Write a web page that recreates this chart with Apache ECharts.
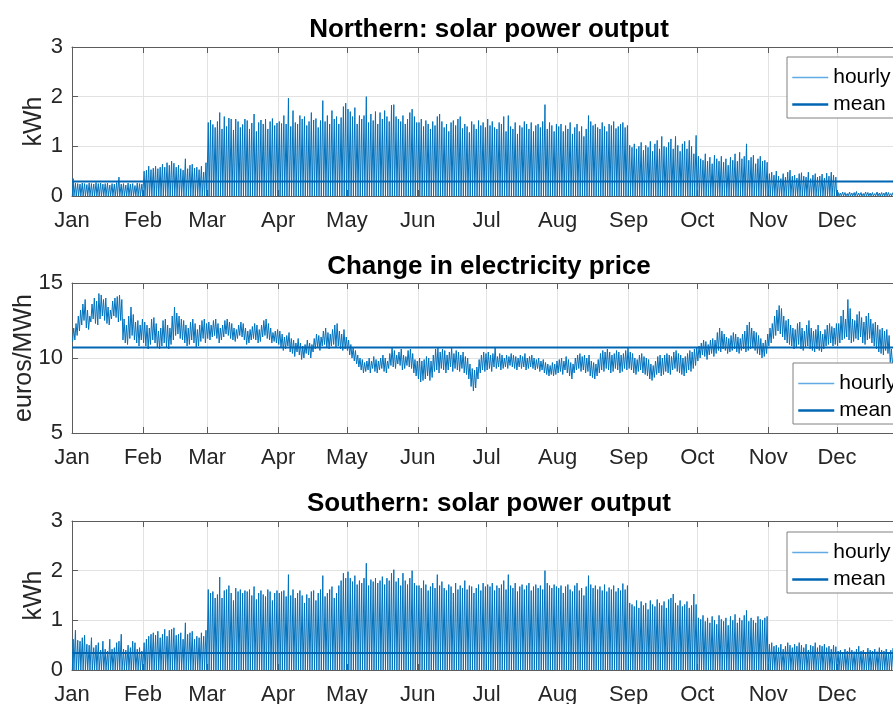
<!DOCTYPE html>
<html><head><meta charset="utf-8">
<script src="https://cdn.jsdelivr.net/npm/echarts@6/dist/echarts.min.js"></script>
<style>html,body{margin:0;padding:0;overflow:hidden;background:#fff}#c{width:920px;height:704px}</style>
</head><body><div id="c"></div>
<script>
const monthNames = ['Jan','Feb','Mar','Apr','May','Jun','Jul','Aug','Sep','Oct','Nov','Dec'];
const monthStarts = [0,31,59,90,120,151,181,212,243,273,304,334];

// daily peak of hourly solar output (kWh), Northern
const northPeak = [
0.35,0.26,0.25,0.24,0.26,0.25,0.23,0.26,0.25,0.24,0.27,0.25,0.26,0.24,0.25,0.26,0.22,0.25,0.24,0.27,0.38,0.24,0.25,0.22,0.26,0.24,0.25,0.21,0.26,0.25,0.24,
0.50,0.52,0.60,0.53,0.56,0.60,0.55,0.58,0.64,0.58,0.67,0.62,0.70,0.66,0.58,0.62,0.55,0.52,0.75,0.55,0.62,0.64,0.56,0.58,0.53,0.60,0.48,0.67,
1.48,1.53,1.44,1.38,1.50,1.68,1.35,1.60,1.40,1.57,1.55,1.33,1.55,1.50,1.38,1.44,1.55,1.52,1.35,1.47,1.65,1.30,1.48,1.53,1.45,1.55,1.35,1.50,1.56,1.42,1.47,
1.50,1.46,1.62,1.45,1.97,1.40,1.72,1.48,1.45,1.62,1.55,1.60,1.42,1.50,1.68,1.53,1.56,1.38,1.52,1.92,1.50,1.62,1.45,1.72,1.55,1.60,1.45,1.58,1.80,1.87,
1.75,1.70,1.60,1.78,1.45,1.62,1.55,1.62,2.00,1.48,1.65,1.52,1.70,1.45,1.68,1.55,1.72,1.60,1.50,1.83,1.84,1.60,1.55,1.50,1.62,1.45,1.55,1.68,1.75,1.60,1.48,
1.48,1.55,1.40,1.52,1.45,1.35,1.50,1.42,1.60,1.65,1.50,1.38,1.45,1.30,1.48,1.52,1.42,1.55,1.60,1.36,1.45,1.40,1.28,1.50,1.44,1.35,1.52,1.42,1.48,1.38,
1.55,1.42,1.50,1.38,1.35,1.48,1.45,1.60,1.30,1.62,1.40,1.35,1.48,1.25,1.42,1.38,1.50,1.45,1.35,1.48,1.30,1.42,1.45,1.38,1.50,1.84,1.35,1.48,1.42,1.30,1.45,
1.40,1.45,1.30,1.42,1.35,1.48,1.25,1.38,1.45,1.30,1.40,1.20,1.35,1.62,1.50,1.42,1.45,1.38,1.35,1.48,1.40,1.30,1.45,1.42,1.50,1.36,1.40,1.45,1.48,1.38,1.42,
1.02,0.98,1.05,0.95,1.00,1.08,0.92,1.02,0.98,1.10,0.90,1.05,1.12,0.95,1.20,1.00,0.98,1.08,1.15,0.95,1.20,1.02,0.90,1.05,1.10,0.95,1.12,1.00,0.85,1.22,
0.80,0.75,0.72,0.85,0.70,0.78,0.65,0.82,0.75,0.70,0.80,0.68,0.75,0.62,0.78,0.72,0.85,0.70,0.88,0.75,0.80,1.05,0.72,0.78,0.82,0.65,0.75,0.80,0.70,0.72,0.68,
0.45,0.48,0.42,0.50,0.40,0.35,0.45,0.38,0.48,0.52,0.40,0.42,0.36,0.45,0.47,0.40,0.38,0.48,0.35,0.42,0.45,0.38,0.40,0.44,0.36,0.46,0.40,0.48,0.42,0.38,
0.07,0.06,0.08,0.07,0.05,0.08,0.06,0.07,0.09,0.06,0.07,0.05,0.08,0.07,0.06,0.07,0.05,0.08,0.06,0.07,0.06,0.08,0.07,0.05,0.07,0.06,0.08,0.07,0.06,0.07,0.06
];

// daily peak of hourly solar output (kWh), Southern
const southPeak = [
0.62,0.80,0.60,0.58,0.65,0.70,0.52,0.50,0.65,0.45,0.50,0.55,0.40,0.58,0.42,0.38,0.62,0.42,0.45,0.55,0.58,0.72,0.42,0.40,0.50,0.45,0.58,0.55,0.42,0.45,0.38,
0.55,0.62,0.68,0.72,0.75,0.70,0.78,0.65,0.72,0.82,0.68,0.80,0.82,0.85,0.70,0.72,0.75,0.62,0.95,0.72,0.75,0.78,0.62,0.68,0.65,0.75,0.68,0.80,
1.62,1.55,1.58,1.45,1.52,1.87,1.45,1.60,1.62,1.70,1.55,1.40,1.65,1.58,1.62,1.55,1.60,1.58,1.62,1.50,1.68,1.42,1.55,1.60,1.52,1.48,1.62,1.58,1.40,1.55,1.60,
1.55,1.58,1.60,1.48,1.92,1.50,1.62,1.45,1.55,1.60,1.50,1.35,1.52,1.45,1.58,1.60,1.40,1.55,1.62,1.90,1.48,1.55,1.62,1.68,1.45,1.55,1.70,1.80,1.95,1.85,
1.98,1.85,1.78,1.90,1.72,1.80,1.75,1.85,2.15,1.70,1.82,1.78,1.85,1.75,1.80,1.88,1.72,1.85,1.80,1.95,2.02,1.78,1.85,1.70,1.95,1.80,1.72,1.85,2.00,1.75,1.70,
1.70,1.65,1.80,1.72,1.60,1.68,1.75,1.65,1.92,1.70,1.78,1.65,1.60,1.72,1.68,1.55,1.75,1.62,1.70,1.65,1.80,1.62,1.70,1.68,1.55,1.65,1.72,1.60,1.75,1.68,
1.72,1.68,1.75,1.60,1.70,1.65,1.72,1.80,1.62,1.92,1.70,1.65,1.75,1.58,1.68,1.72,1.62,1.70,1.75,1.60,1.68,1.72,1.65,1.70,1.62,2.00,1.75,1.70,1.65,1.72,1.68,
1.65,1.70,1.55,1.68,1.72,1.62,1.58,1.70,1.75,1.60,1.65,1.50,1.68,1.90,1.72,1.65,1.70,1.62,1.68,1.60,1.72,1.58,1.66,1.62,1.70,1.58,1.65,1.60,1.74,1.62,1.70,
1.35,1.32,1.28,1.40,1.25,1.38,1.30,1.35,1.22,1.40,1.32,1.28,1.42,1.35,1.30,1.38,1.25,1.42,1.45,1.53,1.35,1.30,1.40,1.28,1.32,1.38,1.25,1.30,1.53,1.32,
1.05,1.02,1.10,0.98,1.05,0.95,1.08,1.00,0.92,1.10,1.02,0.98,1.05,0.90,1.08,1.00,1.12,0.95,1.05,1.00,1.10,1.20,0.98,1.05,1.00,0.95,1.08,1.02,1.00,1.05,1.08,
0.52,0.55,0.48,0.50,0.45,0.52,0.42,0.48,0.55,0.50,0.45,0.52,0.48,0.55,0.50,0.45,0.52,0.40,0.50,0.48,0.55,0.45,0.50,0.48,0.52,0.45,0.48,0.42,0.50,0.47,
0.38,0.40,0.36,0.42,0.38,0.45,0.40,0.37,0.42,0.48,0.38,0.40,0.36,0.44,0.40,0.38,0.42,0.37,0.45,0.40,0.38,0.42,0.36,0.40,0.44,0.38,0.40,0.37,0.42,0.39,0.40
];

// daily low / high of hourly electricity price (euros/MWh)
const priceLow = [
11.1,11.2,11.5,11.8,12.2,12.5,12.0,11.9,12.4,12.6,12.3,12.2,12.6,12.8,12.5,12.3,12.2,12.6,12.8,12.7,12.4,12.5,11.2,11.0,10.9,11.3,11.5,11.2,11.0,10.8,11.2,
11.0,10.8,10.6,10.9,11.2,11.0,10.7,10.6,10.8,11.0,10.7,10.6,10.9,11.2,11.5,11.6,11.3,11.2,11.0,10.8,10.9,11.2,11.0,10.7,10.8,11.1,11.3,11.0,
11.3,11.2,11.4,11.5,11.3,11.0,11.2,11.4,11.6,11.5,11.3,11.2,11.1,11.3,11.5,11.4,11.2,10.9,11.0,11.2,11.3,11.2,11.0,11.1,11.4,11.5,11.3,11.2,11.0,11.1,11.0,
10.9,10.7,10.5,10.6,10.8,10.4,10.3,10.1,10.4,10.2,9.9,10.0,10.3,10.2,10.0,10.4,10.6,10.7,10.5,10.8,10.9,10.7,10.6,10.8,10.9,10.7,10.8,10.6,10.5,10.6,
10.5,10.2,10.0,9.8,9.6,9.4,9.2,9.0,9.1,9.2,9.0,9.3,9.1,9.0,9.2,9.3,9.1,9.0,9.3,9.5,9.4,9.3,9.6,9.5,9.2,9.3,9.5,9.4,9.3,9.0,8.8,
8.6,8.4,8.5,8.6,8.8,8.5,8.7,9.1,9.2,9.0,9.3,9.2,9.0,9.2,9.4,9.1,9.3,9.2,9.1,9.3,9.0,8.9,8.6,8.1,7.8,8.0,8.6,9.0,9.2,9.1,
9.2,9.3,9.1,9.4,9.3,9.4,9.2,9.3,9.4,9.3,9.5,9.4,9.3,9.2,9.4,9.3,9.4,9.2,9.3,9.4,9.3,9.2,9.3,9.1,9.2,9.0,8.9,8.8,8.9,8.8,8.9,
9.0,9.1,8.9,9.2,9.0,8.8,8.6,9.0,9.2,9.3,9.1,9.2,9.0,9.1,8.8,8.7,8.6,8.8,9.0,9.2,9.1,9.3,9.2,9.0,9.1,9.3,9.2,9.0,9.1,9.3,9.2,
9.3,9.2,9.0,8.9,9.1,9.2,9.0,8.9,8.8,8.6,8.5,8.7,8.9,9.0,8.8,8.9,9.1,9.0,8.9,9.2,9.3,9.1,9.0,8.9,8.8,9.0,9.2,9.1,9.3,9.5,
9.8,10.0,10.2,10.1,9.9,10.2,10.3,10.1,10.3,10.5,10.4,10.6,10.5,10.3,10.4,10.5,10.6,10.4,10.3,10.5,10.6,10.4,10.5,10.6,10.7,10.5,10.3,10.2,10.0,10.1,10.3,
10.8,11.0,11.3,11.5,11.8,11.6,11.4,11.2,11.0,10.9,10.8,10.6,10.7,10.9,10.6,10.5,10.7,10.8,10.6,10.5,10.4,10.6,10.5,10.4,10.6,10.8,10.9,11.0,10.8,10.9,
10.8,11.0,11.2,11.3,11.4,11.2,11.0,11.1,11.3,11.2,11.4,11.0,10.9,11.2,11.3,11.0,10.8,10.6,10.4,10.3,10.2,10.5,10.3,9.7,9.5,9.8,10.0,10.2,10.1,10.3,10.4
];
const priceHigh = [
12.0,12.3,12.8,13.2,13.6,13.9,13.2,12.8,13.6,14.0,13.8,14.3,14.2,13.9,14.0,13.4,13.2,13.8,14.0,14.1,14.2,13.9,12.6,12.2,12.8,13.4,12.9,12.4,12.5,12.2,12.6,
12.4,12.2,12.0,12.6,12.7,12.3,11.8,12.0,12.5,12.6,12.2,12.0,12.8,13.4,13.0,12.8,12.6,12.5,12.2,12.0,12.4,12.6,12.3,11.9,12.2,12.5,12.6,12.3,
12.4,12.2,12.5,12.6,12.3,12.0,12.2,12.5,12.6,12.4,12.3,12.0,11.9,12.2,12.4,12.3,12.0,11.8,11.9,12.1,12.3,12.2,11.9,12.2,12.5,12.6,12.3,12.0,11.7,11.8,11.9,
11.8,11.6,11.4,11.5,11.7,11.3,11.2,11.0,11.3,11.0,10.8,10.9,11.2,11.0,10.9,11.3,11.6,11.5,11.4,11.8,12.0,11.7,11.6,11.9,12.2,12.3,11.8,11.6,11.9,11.4,
11.2,10.9,10.7,10.5,10.2,10.0,9.9,9.7,9.8,10.0,9.8,10.1,9.9,9.8,10.0,10.2,10.0,9.8,10.3,10.7,10.5,10.2,10.4,10.6,10.2,10.1,10.5,10.6,10.3,9.9,9.8,
10.0,9.8,9.9,10.1,10.0,9.8,10.2,10.6,10.7,10.4,10.6,10.5,10.2,10.4,10.7,10.3,10.5,10.4,10.2,10.4,10.1,10.0,9.6,9.3,9.2,9.4,9.9,10.2,10.4,10.3,
10.4,10.2,10.3,10.7,10.1,10.3,10.2,10.0,10.2,10.1,10.3,10.2,10.1,10.0,10.2,10.1,10.3,10.0,10.1,10.2,10.0,9.9,10.0,9.8,9.9,9.7,9.6,9.5,9.7,9.6,9.8,
9.9,10.0,9.8,10.1,9.9,9.7,9.6,10.0,10.2,10.3,10.1,10.2,10.0,10.2,9.8,9.7,9.6,9.9,10.3,10.5,10.4,10.6,10.4,10.2,10.3,10.5,10.4,10.2,10.3,10.5,10.7,
10.4,10.3,10.0,9.9,10.2,10.3,10.1,10.0,9.9,9.6,9.5,9.8,10.1,10.2,10.0,10.2,10.3,10.2,10.1,10.4,10.5,10.3,10.2,10.0,10.1,10.3,10.5,10.4,10.6,10.7,
10.8,11.0,11.2,11.1,10.9,11.2,11.3,11.2,11.7,12.0,11.8,11.6,11.4,11.3,11.5,11.7,11.6,11.4,11.3,11.6,11.8,12.2,12.4,12.0,11.8,11.7,11.5,11.3,11.0,11.2,11.6,
12.0,12.3,12.8,13.2,13.5,13.3,12.8,12.5,12.6,12.2,12.0,11.9,12.3,12.4,12.0,11.8,12.2,12.5,12.0,11.8,11.9,12.2,11.8,11.6,11.9,12.2,12.3,12.1,12.0,12.3,
12.3,12.8,13.2,12.6,13.9,13.3,12.6,12.5,12.9,13.1,12.7,12.4,12.8,13.0,12.6,12.3,12.4,12.2,11.9,12.0,11.8,11.9,11.5,10.6,10.2,10.8,11.2,11.4,11.3,11.5,11.6
];

const northMean = 0.29;
const priceMean = 10.7;
const southMean = 0.34;

const titles = ['Northern: solar power output', 'Change in electricity price', 'Southern: solar power output'];
const yNames = ['kWh', 'euros/MWh', 'kWh'];

[northPeak, southPeak, priceLow, priceHigh].forEach(a => { if (a.length !== 365) throw new Error('bad length ' + a.length); });

const FONT = '"Liberation Sans", Arial, Helvetica, sans-serif';
const AX = '#5c5c5c', GRIDC = '#e2e2e2', TXT = '#262626';
const HOURLY = '#0072BD', MEAN = '#0066B3', HOURLY_LEG = '#62aae3';
const LEFT = 72, WIDTH = 836;
const gridBoxes = [{top:47,height:149},{top:283,height:150},{top:521,height:149}];
const yRanges = [{min:0,max:3,interval:1},{min:5,max:15,interval:5},{min:0,max:3,interval:1}];
const nameGaps = [25, 35, 25];
const titleTops = [12, 249, 486];
const legendPos = [[787,57],[793,363],[787,532]];

function solarPoints(peaks){ const pts=[]; peaks.forEach((p,d)=>{ pts.push([d+0.15,0],[d+0.5,p],[d+0.85,0]); }); return pts; }
function pricePoints(lo,hi){ const pts=[]; lo.forEach((l,d)=>{ pts.push([d+0.25,l],[d+0.75,hi[d]]); }); return pts; }

const hourlyData = [solarPoints(northPeak), pricePoints(priceLow, priceHigh), solarPoints(southPeak)];
const means = [northMean, priceMean, southMean];

const grid = [], xAxis = [], yAxis = [], series = [], title = [], legend = [];
for (let i = 0; i < 3; i++) {
  grid.push({left: LEFT, width: WIDTH, top: gridBoxes[i].top, height: gridBoxes[i].height, containLabel: false, outerBoundsMode: 'none'});
  xAxis.push({
    gridIndex:i, type:'value', min:0, max:365, position:'bottom',
    axisLine:{show:true, onZero:false, lineStyle:{color:AX, width:1}},
    axisTick:{show:true, inside:true, length:6, customValues:monthStarts, lineStyle:{color:AX}},
    axisLabel:{show:true, customValues:monthStarts, formatter:(v)=>monthNames[monthStarts.indexOf(v)], fontSize:22, color:TXT, fontFamily:FONT, margin:14},
    splitLine:{show:true, lineStyle:{color:GRIDC, width:1}}
  });
  xAxis.push({
    gridIndex:i, type:'value', min:0, max:365, position:'top',
    axisLine:{show:true, onZero:false, lineStyle:{color:AX, width:1}},
    axisTick:{show:true, inside:true, length:6, customValues:monthStarts, lineStyle:{color:AX}},
    axisLabel:{show:false}, splitLine:{show:false}
  });
  yAxis.push({
    gridIndex:i, type:'value', min:yRanges[i].min, max:yRanges[i].max, interval:yRanges[i].interval,
    axisLine:{show:true, onZero:false, lineStyle:{color:AX, width:1}},
    axisTick:{show:true, inside:true, length:6, lineStyle:{color:AX}},
    axisLabel:{fontSize:22, color:TXT, fontFamily:FONT, margin:9},
    splitLine:{show:true, lineStyle:{color:GRIDC, width:1}},
    name:yNames[i], nameLocation:'middle', nameRotate:90, nameGap:nameGaps[i], nameMoveOverlap:false,
    nameTextStyle:{fontSize:25, color:TXT, fontFamily:FONT}
  });
  series.push({
    type:'line', name:'hourly', xAxisIndex:2*i, yAxisIndex:i, data:hourlyData[i],
    symbol:'none', showSymbol:false, animation:false, silent:true, z:2,
    lineStyle:{width:1, color:HOURLY}, itemStyle:{color:HOURLY}
  });
  series.push({
    type:'line', name:'mean', xAxisIndex:2*i, yAxisIndex:i, data:[[0,means[i]],[365,means[i]]],
    symbol:'none', showSymbol:false, animation:false, silent:true, z:3,
    lineStyle:{width:2, color:MEAN}, itemStyle:{color:MEAN}
  });
  title.push({text:titles[i], left:484, top:titleTops[i], textAlign:'center',
    textStyle:{fontSize:26, fontWeight:'bold', color:'#000', fontFamily:FONT}});
  legend.push({left:legendPos[i][0], top:legendPos[i][1], orient:'vertical',
    data:[
      {name:'hourly', lineStyle:{width:1.5, color:HOURLY_LEG}},
      {name:'mean', lineStyle:{width:2.5, color:MEAN}}
    ],
    itemWidth:36, itemHeight:14, itemGap:6, padding:[10,30,3,4], backgroundColor:'#fff',
    borderColor:'#808080', borderWidth:1, selectedMode:false,
    itemStyle:{color:'rgba(0,0,0,0)', borderColor:'rgba(0,0,0,0)', borderWidth:0, opacity:0},
    textStyle:{fontSize:21, color:'#000', fontFamily:FONT}});
}

const chart = echarts.init(document.getElementById('c'), null, {renderer:'canvas'});
chart.setOption({animation:false, title, legend, grid, xAxis, yAxis, series});
</script></body></html>
